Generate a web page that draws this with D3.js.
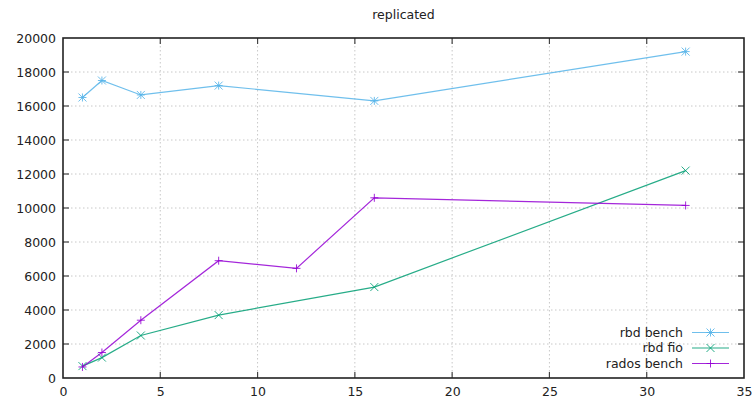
<!DOCTYPE html>
<html>
<head>
<meta charset="utf-8">
<script src="https://cdn.jsdelivr.net/npm/d3@7"></script>
<style>
  html, body { margin: 0; padding: 0; background: #fff; }
  svg { display: block; font-family: "DejaVu Sans", sans-serif; }
</style>
</head>
<body>
<svg id="chart" width="756" height="402"></svg>
<script>
// Threads / queue depth on x, throughput on y
const titleText = "replicated";
const xTicks = [0, 5, 10, 15, 20, 25, 30, 35];
const yTicks = [0, 2000, 4000, 6000, 8000, 10000, 12000, 14000, 16000, 18000, 20000];

const rbdBenchX = [1, 2, 4, 8, 16, 32];
const rbdBenchY = [16500, 17500, 16650, 17200, 16300, 19200];

const rbdFioX = [1, 2, 4, 8, 16, 32];
const rbdFioY = [700, 1200, 2500, 3700, 5350, 12200];

const radosBenchX = [1, 2, 4, 8, 12, 16, 32];
const radosBenchY = [650, 1500, 3400, 6900, 6450, 10600, 10150];

const seriesNames = ["rbd bench", "rbd fio", "rados bench"];
const seriesColors = ["#56b4e9", "#009e73", "#9400d3"];
const seriesMarks = ["star", "cross", "plus"];

const series = [
  { name: seriesNames[0], xs: rbdBenchX, ys: rbdBenchY, color: seriesColors[0], mark: seriesMarks[0] },
  { name: seriesNames[1], xs: rbdFioX, ys: rbdFioY, color: seriesColors[1], mark: seriesMarks[1] },
  { name: seriesNames[2], xs: radosBenchX, ys: radosBenchY, color: seriesColors[2], mark: seriesMarks[2] }
];

const svg = d3.select("#chart");
const plotLeft = 63, plotRight = 744, plotTop = 38, plotBottom = 378;

const x = d3.scaleLinear().domain([0, 35]).range([plotLeft, plotRight]);
const y = d3.scaleLinear().domain([0, 20000]).range([plotBottom, plotTop]);

// Grid
const grid = svg.append("g");
grid.selectAll("line.gx").data(xTicks.slice(1, -1)).join("line")
  .attr("x1", d => x(d)).attr("x2", d => x(d))
  .attr("y1", plotTop).attr("y2", plotBottom)
  .attr("stroke", "#c8c8c8").attr("stroke-width", 1).attr("stroke-dasharray", "1.5,2.5");
grid.selectAll("line.gy").data(yTicks.slice(1, -1)).join("line")
  .attr("y1", d => y(d)).attr("y2", d => y(d))
  .attr("x1", plotLeft).attr("x2", plotRight)
  .attr("stroke", "#c8c8c8").attr("stroke-width", 1).attr("stroke-dasharray", "1.5,2.5");

// Axes (ticks on all sides, labels on bottom and left)
const tickLen = 6;
const axB = svg.append("g").attr("transform", `translate(0,${plotBottom})`)
  .call(d3.axisBottom(x).tickValues(xTicks).tickSize(0).tickPadding(9).tickFormat(d3.format("d")));
const axL = svg.append("g").attr("transform", `translate(${plotLeft},0)`)
  .call(d3.axisLeft(y).tickValues(yTicks).tickSize(0).tickPadding(7).tickFormat(d3.format("d")));
[axB, axL].forEach(a => {
  a.select(".domain").remove();
  a.selectAll("text").attr("font-size", 12.5).attr("fill", "#222").attr("font-family", "DejaVu Sans, sans-serif");
});

const ticks = svg.append("g").attr("stroke", "#444").attr("stroke-width", 1.2);
xTicks.slice(1, -1).forEach(d => {
  ticks.append("line").attr("x1", x(d)).attr("x2", x(d)).attr("y1", plotBottom).attr("y2", plotBottom - tickLen);
  ticks.append("line").attr("x1", x(d)).attr("x2", x(d)).attr("y1", plotTop).attr("y2", plotTop + tickLen);
});
yTicks.slice(1, -1).forEach(d => {
  ticks.append("line").attr("y1", y(d)).attr("y2", y(d)).attr("x1", plotLeft).attr("x2", plotLeft + tickLen);
  ticks.append("line").attr("y1", y(d)).attr("y2", y(d)).attr("x1", plotRight).attr("x2", plotRight - tickLen);
});

// Border
svg.append("rect").attr("x", plotLeft).attr("y", plotTop)
  .attr("width", plotRight - plotLeft).attr("height", plotBottom - plotTop)
  .attr("fill", "none").attr("stroke", "#222").attr("stroke-width", 1.6);

// Title
svg.append("text").attr("x", (plotLeft + plotRight) / 2).attr("y", 19)
  .attr("text-anchor", "middle").attr("font-size", 12.5).attr("fill", "#222")
  .text(titleText);

// Point glyphs
function markPath(kind, cx, cy) {
  const r = 4;
  const p = d3.path();
  if (kind === "plus" || kind === "star") {
    p.moveTo(cx - r, cy); p.lineTo(cx + r, cy);
    p.moveTo(cx, cy - r); p.lineTo(cx, cy + r);
  }
  if (kind === "cross" || kind === "star") {
    p.moveTo(cx - r, cy - r); p.lineTo(cx + r, cy + r);
    p.moveTo(cx - r, cy + r); p.lineTo(cx + r, cy - r);
  }
  return p.toString();
}

const line = d3.line().x(d => x(d[0])).y(d => y(d[1]));

series.forEach(s => {
  const pts = s.xs.map((v, i) => [v, s.ys[i]]);
  const g = svg.append("g");
  g.append("path").datum(pts).attr("d", line)
    .attr("fill", "none").attr("stroke", s.color).attr("stroke-width", 1.2).attr("stroke-opacity", 0.85);
  g.selectAll("path.pt").data(pts).join("path").attr("class", "pt")
    .attr("d", d => markPath(s.mark, x(d[0]), y(d[1])))
    .attr("fill", "none").attr("stroke", s.color).attr("stroke-width", 1).attr("stroke-opacity", 0.85);
});

// Legend
const legendRight = 683, lineX1 = 692, lineX2 = 729, legendY0 = 332.5, legendStep = 15.5;
series.forEach((s, i) => {
  const ly = legendY0 + i * legendStep;
  svg.append("text").attr("x", legendRight).attr("y", ly).attr("dy", "0.35em")
    .attr("text-anchor", "end").attr("font-size", 12.5).attr("fill", "#222").text(s.name);
  svg.append("line").attr("x1", lineX1).attr("x2", lineX2).attr("y1", ly).attr("y2", ly)
    .attr("stroke", s.color).attr("stroke-width", 1.2).attr("stroke-opacity", 0.85);
  svg.append("path").attr("d", markPath(s.mark, (lineX1 + lineX2) / 2, ly))
    .attr("fill", "none").attr("stroke", s.color).attr("stroke-width", 1).attr("stroke-opacity", 0.85);
});
</script>
</body>
</html>
